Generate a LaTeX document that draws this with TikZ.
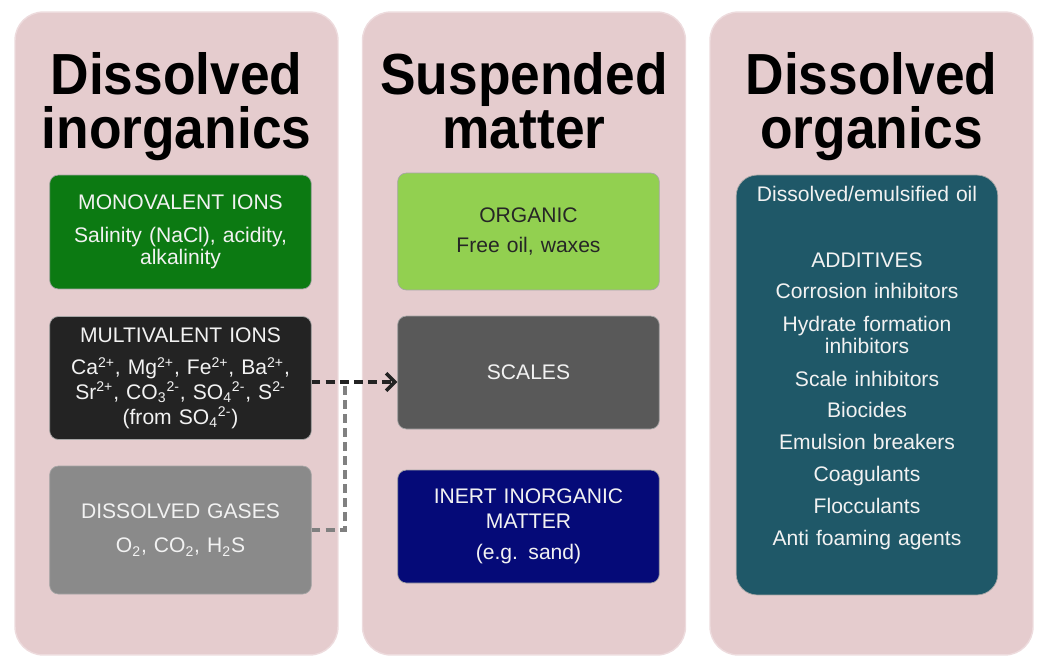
\documentclass[tikz,border=0pt]{standalone}
\usepackage{fontspec}
\setmainfont{Liberation Sans}
\newfontfamily\titlefont{Liberation Sans}[FakeStretch=0.92]
\usepackage{tikz}
\usetikzlibrary{arrows.meta,positioning}
\usepackage{xcolor}
\definecolor{wpink}{RGB}{229,204,206}
\definecolor{wgreen}{RGB}{12,122,18}
\definecolor{wblack}{RGB}{35,35,35}
\definecolor{wgray}{RGB}{138,138,138}
\definecolor{wlightgreen}{RGB}{146,208,80}
\definecolor{wdarkgray}{RGB}{89,89,89}
\definecolor{wnavy}{RGB}{5,10,120}
\definecolor{wteal}{RGB}{31,88,104}
\tikzstyle{panel} = [rectangle, rounded corners=16pt, minimum width=6.46cm, minimum height=12.86cm, fill=wpink, draw=wpink!70!white, thick]
\tikzstyle{title} = [font=\titlefont\bfseries\fontsize{33}{31}\selectfont, align=center, text=black, anchor=north, inner sep=0pt]
\tikzstyle{catbox} = [rectangle, rounded corners=5pt, minimum width=5.14cm, text width=5cm, align=center, text=white!95!black, draw=black!35, font=\fontsize{12}{12.5}\selectfont]
\tikzstyle{dasharrow} = [line width=2pt, dash pattern=on 5pt off 3pt, -{Straight Barb[length=5pt,width=10pt]}, color=wblack]
\tikzstyle{dashline} = [line width=2pt, dash pattern=on 5pt off 3pt, color=black!50]

\begin{document}
\begin{tikzpicture}[x=0.02cm, y=-0.02cm]
\useasboundingbox (0,0) rectangle (1040,660);
% Column panels
\node (inorgpanel) [panel] at (176.5,333.5) {};
\node (susppanel) [panel] at (524,333.5) {};
\node (orgpanel) [panel] at (871.5,333.5) {};

% Column titles
\node (inorgtitle) [title] at (176.5,52) {Dissolved\\inorganics};
\node (susptitle) [title] at (524,52) {Suspended\\matter};
\node (orgtitle) [title] at (871.5,52) {Dissolved\\organics};

% Dissolved inorganics
\node (mono) [catbox, fill=wgreen, minimum height=2.28cm] at (180.5,232)
  {MONOVALENT IONS\\[6.5pt] Salinity (NaCl), acidity,\\ alkalinity};
\node (multi) [catbox, fill=wblack, minimum height=2.46cm, font=\fontsize{12}{14}\selectfont] at (180.5,378)
  {MULTIVALENT IONS\\[4.5pt]
   Ca\textsuperscript{2+}, Mg\textsuperscript{2+}, Fe\textsuperscript{2+}, Ba\textsuperscript{2+},\\
   Sr\textsuperscript{2+}, CO\textsubscript{3}\textsuperscript{2-}, SO\textsubscript{4}\textsuperscript{2-}, S\textsuperscript{2-}\\
   (from SO\textsubscript{4}\textsuperscript{2-})};
\node (gases) [catbox, fill=wgray, minimum height=2.56cm] at (180.5,530)
  {DISSOLVED GASES\\[7pt] O\textsubscript{2}, CO\textsubscript{2}, H\textsubscript{2}S};

% Suspended matter
\node (organic) [catbox, fill=wlightgreen, text=black!85, minimum height=2.34cm] at (528.5,231.5)
  {ORGANIC\\[5pt] Free oil, waxes};
\node (scales) [catbox, fill=wdarkgray, minimum height=2.26cm] at (528.5,372.5) {SCALES};
\node (inert) [catbox, fill=wnavy, minimum height=2.26cm] at (528.5,526.5)
  {INERT INORGANIC\\[1.5pt] MATTER\\[5.5pt] (e.g. sand)};

% Dissolved organics
\node (orgbox) [catbox, fill=wteal, rounded corners=12pt, minimum width=5.16cm, minimum height=8.4cm] at (867,385) {};
\node (orglist) [catbox, draw=none, anchor=north, yshift=-0.1cm] at (orgbox.north)
  {Dissolved/emulsified oil\\[25pt]
   ADDITIVES\\[5.6pt]
   Corrosion inhibitors\\[6pt]
   Hydrate formation\\ inhibitors\\[6.2pt]
   Scale inhibitors\\[5.6pt]
   Biocides\\[5.6pt]
   Emulsion breakers\\[5.6pt]
   Coagulants\\[5.6pt]
   Flocculants\\[5.6pt]
   Anti foaming agents};

% Links to scales
\coordinate (joint) at (345,382);
\draw[dashline] (gases.east) -| (joint);
\draw[dasharrow] (multi.east |- joint) -- (scales.west |- joint);
\end{tikzpicture}
\end{document}
